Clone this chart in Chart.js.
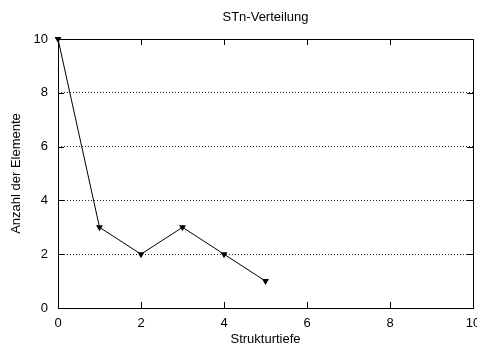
<!DOCTYPE html>
<html>
<head>
<meta charset="utf-8">
<script src="https://cdn.jsdelivr.net/npm/chart.js@4/dist/chart.umd.min.js"></script>
<style>
  html, body { margin: 0; padding: 0; background: #fff; }
  #wrap { width: 477px; height: 350px; }
</style>
</head>
<body>
<div id="wrap"><canvas id="c" width="477" height="350"></canvas></div>
<script>
// STn-Verteilung: number of elements per structure depth
const depth = [0, 1, 2, 3, 4, 5];
const counts = [10, 3, 2, 3, 2, 1];
const xRange = [0, 10];
const yRange = [0, 10];
const tickStep = 2;

const FONT = { family: '"Liberation Sans", Arial, Helvetica, sans-serif', size: 13 };

// Frame around the plot area plus inward tick marks on all four sides
const framePlugin = {
  id: 'frame',
  afterDraw(chart) {
    const { ctx, chartArea: a, scales } = chart;
    const len = 6;
    ctx.save();
    ctx.strokeStyle = '#000';
    ctx.lineWidth = 1;
    ctx.setLineDash([]);
    ctx.strokeRect(Math.round(a.left) + 0.5, Math.round(a.top) + 0.5,
                   Math.round(a.right - a.left), Math.round(a.bottom - a.top));
    ctx.beginPath();
    scales.x.ticks.forEach(t => {
      const x = Math.round(scales.x.getPixelForValue(t.value)) + 0.5;
      ctx.moveTo(x, a.bottom); ctx.lineTo(x, a.bottom - len);
      ctx.moveTo(x, a.top); ctx.lineTo(x, a.top + len);
    });
    scales.y.ticks.forEach(t => {
      const y = Math.round(scales.y.getPixelForValue(t.value)) + 0.5;
      ctx.moveTo(a.left, y); ctx.lineTo(a.left + len, y);
      ctx.moveTo(a.right, y); ctx.lineTo(a.right - len, y);
    });
    ctx.stroke();
    ctx.restore();
  }
};

new Chart(document.getElementById('c'), {
  type: 'line',
  data: {
    datasets: [{
      data: depth.map((d, i) => ({ x: d, y: counts[i] })),
      borderColor: '#000',
      backgroundColor: '#000',
      borderWidth: 1,
      pointStyle: 'triangle',
      rotation: 180,
      pointRadius: 4,
      pointBorderWidth: 0,
      tension: 0,
      clip: false
    }]
  },
  options: {
    responsive: false,
    animation: false,
    devicePixelRatio: 1,
    layout: { padding: 0 },
    plugins: {
      legend: { display: false },
      tooltip: { enabled: false },
      title: {
        display: true,
        text: 'STn-Verteilung',
        color: '#000',
        font: { ...FONT, weight: 'normal' },
        fullSize: false,
        padding: { top: 10, bottom: 13.4 }
      }
    },
    scales: {
      x: {
        type: 'linear',
        min: xRange[0],
        max: xRange[1],
        ticks: { stepSize: tickStep, color: '#000', font: FONT, padding: 0, maxRotation: 0 },
        grid: { display: false },
        border: { display: false },
        title: { display: true, text: 'Strukturtiefe', color: '#000', font: FONT, padding: { top: 0, bottom: 3 } },
        afterFit(s) { s.height = 42; s.paddingLeft = 0; s.paddingRight = 0; }
      },
      y: {
        type: 'linear',
        min: yRange[0],
        max: yRange[1],
        ticks: { stepSize: tickStep, color: '#000', font: FONT, padding: 10 },
        grid: {
          drawTicks: false,
          lineWidth: 1,
          color: c => (c.tick && c.tick.value > yRange[0] && c.tick.value < yRange[1]) ? 'rgba(0,0,0,0.85)' : 'rgba(0,0,0,0)'
        },
        border: { display: false, dash: [1, 2] },
        title: { display: true, text: 'Anzahl der Elemente', color: '#000', font: FONT, padding: { top: 9, bottom: 0 } },
        afterFit(s) { s.width = 58; s.paddingTop = 0; s.paddingBottom = 0; }
      }
    }
  },
  plugins: [framePlugin]
});
</script>
</body>
</html>
